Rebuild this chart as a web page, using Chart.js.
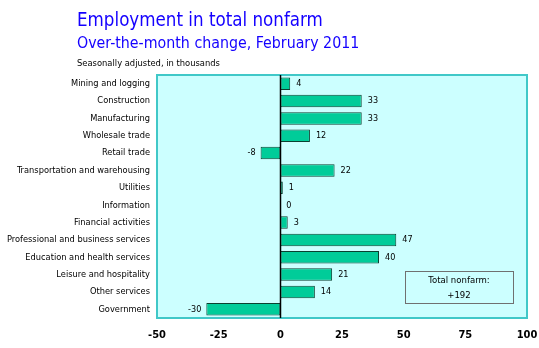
<!DOCTYPE html>
<html>
<head>
<meta charset="utf-8">
<script src="https://cdn.jsdelivr.net/npm/chart.js@4"></script>
<style>
  html, body { margin: 0; padding: 0; background: #fff; }
  #wrap { width: 539px; height: 348px; position: relative; }
</style>
</head>
<body>
<div id="wrap"><canvas id="myChart" width="539" height="348"></canvas></div>
<script>
const FONT = "'DejaVu Sans Condensed', 'Liberation Sans', sans-serif";

const industries = [
    'Mining and logging', 'Construction', 'Manufacturing', 'Wholesale trade',
    'Retail trade', 'Transportation and warehousing', 'Utilities', 'Information',
    'Financial activities', 'Professional and business services',
    'Education and health services', 'Leisure and hospitality',
    'Other services', 'Government'
];
const changes = [4, 33, 33, 12, -8, 22, 1, 0, 3, 47, 40, 21, 14, -30];
const xTicks = [-50, -25, 0, 25, 50, 75, 100];
const totalChange = '+192';

// plot background, titles and the total box
const decorations = {
    id: 'decorations',
    beforeDraw(chart) {
        const ctx = chart.ctx;
        const a = chart.chartArea;
        ctx.save();
        ctx.fillStyle = '#ccffff';
        ctx.fillRect(a.left, a.top, a.right - a.left, a.bottom - a.top);
        ctx.restore();
    },
    afterDatasetsDraw(chart) {
        const ctx = chart.ctx;
        const a = chart.chartArea;
        ctx.save();
        ctx.strokeStyle = '#40c8c8';
        ctx.lineWidth = 2;
        ctx.strokeRect(a.left, a.top, a.right - a.left, a.bottom - a.top);

        // zero line on top of the bars
        const x0 = Math.round(chart.scales.x.getPixelForValue(0)) + 0.5;
        ctx.strokeStyle = '#000';
        ctx.lineWidth = 1.5;
        ctx.beginPath();
        ctx.moveTo(x0, a.top);
        ctx.lineTo(x0, a.bottom);
        ctx.stroke();

        // labels at the end of each bar
        const meta = chart.getDatasetMeta(0);
        ctx.font = '9px ' + FONT;
        ctx.fillStyle = '#000';
        ctx.textBaseline = 'middle';
        meta.data.forEach((bar, i) => {
            const v = changes[i];
            if (v < 0) {
                ctx.textAlign = 'right';
                ctx.fillText(String(v), bar.x - 5, bar.y);
            } else {
                ctx.textAlign = 'left';
                ctx.fillText(String(v), bar.x + 6, bar.y);
            }
        });

        // total box
        ctx.strokeStyle = '#707070';
        ctx.lineWidth = 1;
        ctx.strokeRect(405.5, 271.5, 108, 32);
        ctx.font = '9.5px ' + FONT;
        ctx.textAlign = 'center';
        ctx.fillText('Total nonfarm:', 459, 281);
        ctx.fillText(totalChange, 459, 296);

        // titles
        ctx.textAlign = 'left';
        ctx.textBaseline = 'alphabetic';
        ctx.fillStyle = '#1400ff';
        ctx.font = '18.6px ' + FONT;
        ctx.fillText('Employment in total nonfarm', 77, 26);
        ctx.font = '15.8px ' + FONT;
        ctx.fillText('Over-the-month change, February 2011', 77, 48);
        ctx.fillStyle = '#000';
        ctx.font = '9.3px ' + FONT;
        ctx.fillText('Seasonally adjusted, in thousands', 77, 66);
        ctx.restore();
    }
};

const ctx = document.getElementById('myChart').getContext('2d');
const myChart = new Chart(ctx, {
    type: 'bar',
    data: {
        labels: industries,
        datasets: [{
            data: changes,
            backgroundColor: '#00cc99',
            borderColor: '#0a4030',
            borderWidth: 1,
            borderSkipped: false,
            barPercentage: 0.72,
            categoryPercentage: 1
        }]
    },
    options: {
        indexAxis: 'y',
        responsive: false,
        animation: false,
        layout: { padding: { top: 75, right: 12, left: 0, bottom: 0 } },
        plugins: {
            legend: { display: false },
            title: { display: false },
            tooltip: { enabled: false }
        },
        scales: {
            x: {
                min: -50,
                max: 100,
                afterBuildTicks(scale) {
                    scale.ticks = xTicks.map(v => ({ value: v }));
                },
                afterFit(scale) {
                    scale.height = 30;
                    scale.paddingLeft = 0;
                    scale.paddingRight = 0;
                },
                border: { display: false },
                grid: { display: false, drawTicks: false },
                ticks: {
                    padding: 11,
                    color: '#000',
                    font: { family: FONT, size: 11, weight: 'bold' }
                }
            },
            y: {
                afterFit(scale) { scale.width = 157; },
                border: { display: false },
                grid: { display: false, drawTicks: false },
                ticks: {
                    padding: 7,
                    color: '#000',
                    font: { family: FONT, size: 9.2 }
                }
            }
        }
    },
    plugins: [decorations]
});
</script>
</body>
</html>
